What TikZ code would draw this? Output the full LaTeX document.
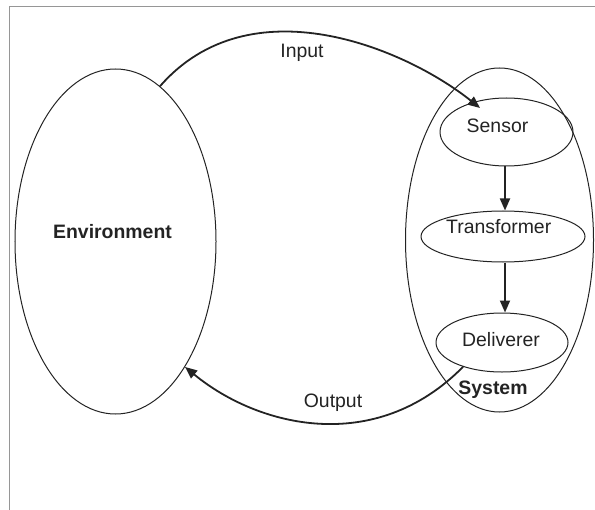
\documentclass[tikz,border=0pt]{standalone}
\usepackage{fontspec}
\setmainfont{Liberation Sans}
\usetikzlibrary{shapes.geometric,arrows.meta}
\definecolor{ink}{RGB}{35,35,35}
\definecolor{framec}{RGB}{150,150,150}
\begin{document}
\begin{tikzpicture}[x=1bp,y=-1bp,
  oval/.style={draw=ink,ellipse,line width=1bp,inner sep=0pt},
  lbl/.style={text=ink,font=\fontsize{19.5}{23}\selectfont,inner sep=0pt},
  blbl/.style={lbl,font=\fontsize{19.5}{23}\selectfont\bfseries},
  flow/.style={draw=ink,line width=1.8bp,-{Triangle[length=12bp,width=10bp]}}]
\useasboundingbox (0,0) rectangle (595,510);
\draw[framec,line width=1bp] (9,510) -- (9,6.5) -- (595,6.5);
% Environment
\node[oval,minimum width=201bp,minimum height=345bp] (env) at (115.5,241.5) {};
\node[blbl] (envT) at (112.5,232) {Environment};
% System
\node[oval,minimum width=188bp,minimum height=344bp] (sys) at (499.5,240) {};
\node[blbl] (sysT) at (493,390) {System};
% inner components
\node[oval,minimum width=133bp,minimum height=68bp] (sensor) at (506.5,132) {};
\node[lbl] (sensorT) at (497.5,126) {Sensor};
\node[oval,minimum width=164bp,minimum height=51bp] (trans) at (503,236.5) {};
\node[lbl] (transT) at (498.7,227) {Transformer};
\node[oval,minimum width=132bp,minimum height=59bp] (deliv) at (502,342.5) {};
\node[lbl] (delivT) at (501,340) {Deliverer};
% internal arrows
\draw[flow] (sensor.south) ++(-1.5,0) coordinate (s1) -- (s1 |- trans.north);
\draw[flow] (trans.south) ++(2,0) coordinate (t1) -- (t1 |- deliv.north);
% input / output
\coordinate (intip) at (480,108);
\draw[flow] (env.74) .. controls (250,-17) and (405,48) .. (intip);
\node[lbl] (inT) at (302,53) {Input};
\draw[flow] (deliv.212) .. controls (375,456) and (258,427) .. (env.-61);
\node[lbl] (outT) at (333,403) {Output};
\end{tikzpicture}
\end{document}
